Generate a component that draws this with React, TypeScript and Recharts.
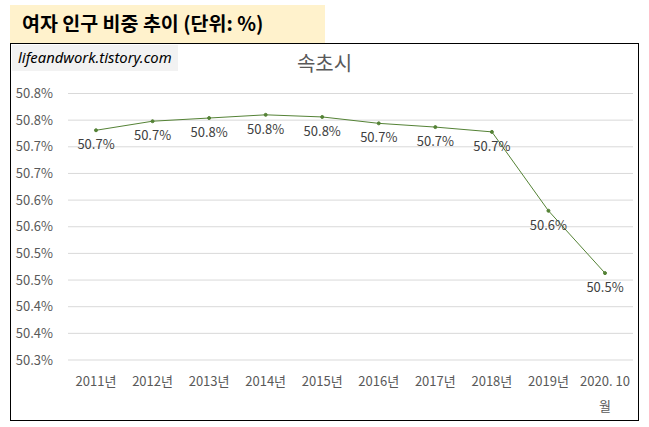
import React from "react";
import { LineChart, Line, XAxis, YAxis, CartesianGrid } from "recharts";

const years = [
  "2011년",
  "2012년",
  "2013년",
  "2014년",
  "2015년",
  "2016년",
  "2017년",
  "2018년",
  "2019년",
  "2020. 10월",
];
const femaleRatio = [50.731, 50.748, 50.754, 50.76, 50.756, 50.744, 50.737, 50.728, 50.58, 50.463];
const yTicks = [50.3, 50.35, 50.4, 50.45, 50.5, 50.55, 50.6, 50.65, 50.7, 50.75, 50.8];

const data = years.map((year, i) => ({ year, ratio: femaleRatio[i] }));

const FONT = "'Noto Sans CJK KR', 'Noto Sans', sans-serif";

// 엑셀처럼 소수 첫째 자리 반올림
function pct(v: number): string {
  return (Math.round(v * 10 + 1e-6) / 10).toFixed(1) + "%";
}

function XTick(props: any) {
  const { x, y, payload } = props;
  const text: string = payload.value;
  // 긴 라벨은 마지막 글자를 다음 줄로
  const lines = text.length > 6 ? [text.slice(0, -1).trim(), text.slice(-1)] : [text];
  return (
    <g>
      {lines.map((line, i) => (
        <text
          key={i}
          x={x}
          y={y + 26 + i * 25}
          textAnchor="middle"
          fill="#595959"
          fontSize={13}
          fontFamily={FONT}
        >
          {line}
        </text>
      ))}
    </g>
  );
}

function PointLabel(props: any) {
  const { x, y, value, index } = props;
  return (
    <text
      key={index}
      x={x}
      y={y + 19}
      textAnchor="middle"
      fill="#404040"
      fontSize={13}
      fontFamily={FONT}
    >
      {pct(value)}
    </text>
  );
}

export default function App() {
  return (
    <div
      style={{
        position: "absolute",
        left: 0,
        top: 0,
        width: 649,
        height: 427,
        background: "#fff",
        overflow: "hidden",
        fontFamily: FONT,
      }}
    >
      <div
        style={{
          position: "absolute",
          left: 10,
          top: 5,
          width: 315,
          height: 38,
          background: "#FFF2CC",
        }}
      />
      <div
        style={{
          position: "absolute",
          left: 22,
          top: 9,
          fontSize: 19.5,
          fontWeight: "bold",
          color: "#000",
          lineHeight: "28px",
          whiteSpace: "nowrap",
        }}
      >
        여자 인구 비중 추이 (단위: %)
      </div>
      <div
        style={{
          position: "absolute",
          left: 10,
          top: 43,
          width: 629,
          height: 378,
          boxSizing: "border-box",
          border: "1.5px solid #000",
        }}
      />
      <div
        style={{
          position: "absolute",
          left: 12,
          top: 45,
          width: 166,
          height: 26,
          background: "#F2F2F2",
        }}
      />
      <div
        style={{
          position: "absolute",
          left: 18,
          top: 47,
          fontSize: 14.8,
          fontStyle: "italic",
          fontFamily: "'Noto Sans', sans-serif",
          color: "#000",
          lineHeight: "20px",
          whiteSpace: "nowrap",
        }}
      >
        lifeandwork.tistory.com
      </div>
      <div
        style={{
          position: "absolute",
          left: 10,
          width: 629,
          top: 49,
          textAlign: "center",
          fontSize: 20,
          color: "#595959",
          lineHeight: "28px",
        }}
      >
        속초시
      </div>
      <div style={{ position: "absolute", left: 10, top: 43 }}>
        <LineChart
          width={629}
          height={378}
          data={data}
          margin={{ top: 50.5, right: 6, bottom: 0, left: 0 }}
        >
          <CartesianGrid vertical={false} stroke="#d9d9d9" />
          <XAxis
            dataKey="year"
            axisLine={false}
            tickLine={false}
            tickSize={0}
            tickMargin={0}
            height={61}
            padding={{ left: 28, right: 28 }}
            interval={0}
            tick={<XTick />}
          />
          <YAxis
            domain={[50.3, 50.8]}
            ticks={yTicks}
            width={58}
            axisLine={false}
            tickLine={false}
            tickSize={0}
            tickMargin={15}
            tickFormatter={pct}
            tick={{ fill: "#595959", fontSize: 13, fontFamily: FONT }}
            interval={0}
          />
          <Line
            type="linear"
            dataKey="ratio"
            stroke="#548235"
            strokeWidth={1}
            dot={{ r: 1.5, fill: "#548235", stroke: "#548235", strokeWidth: 1 }}
            label={PointLabel}
            isAnimationActive={false}
          />
        </LineChart>
      </div>
    </div>
  );
}
